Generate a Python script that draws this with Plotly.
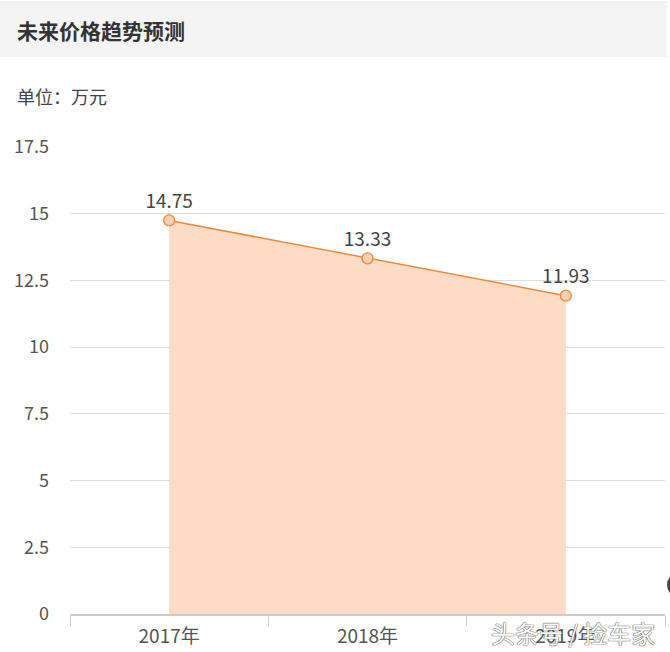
import plotly.graph_objects as go

categories = ["2017年", "2018年", "2019年"]
values = [14.75, 13.33, 11.93]
value_labels = ["14.75", "13.33", "11.93"]
y_ticks = [0, 2.5, 5, 7.5, 10, 12.5, 15, 17.5]
y_tick_labels = ["0", "2.5", "5", "7.5", "10", "12.5", "15", "17.5"]

W, H = 670, 652
ML, MR, MT, MB = 70, 5, 147, 38
PW = W - ML - MR
PH = H - MT - MB


def px_x(p):
    return (p - ML) / PW


def px_y(p):
    return (H - MB - p) / PH


FONT = "Noto Sans CJK SC, Microsoft YaHei, sans-serif"

fig = go.Figure()
fig.add_trace(go.Scatter(
    x=categories, y=values,
    mode="lines+markers+text",
    fill="tozeroy",
    fillcolor="#fddbc4",
    line=dict(color="#f08a3c", width=1.5),
    marker=dict(size=11, color="#fcd0b0", line=dict(color="#f08a3c", width=1.3)),
    text=value_labels,
    textposition="top center",
    textfont=dict(family=FONT, size=19, color="#444"),
    hoverinfo="skip",
))

fig.update_layout(
    width=W, height=H,
    margin=dict(l=ML, r=MR, t=MT, b=MB),
    paper_bgcolor="white", plot_bgcolor="white",
    showlegend=False,
    font=dict(family=FONT, color="#555"),
    xaxis=dict(
        type="category", range=[-0.5, 2.5],
        tickson="boundaries", ticks="outside", ticklen=10, tickcolor="#ccc",
        showline=True, linecolor="#ccc", linewidth=1.5,
        showgrid=False, zeroline=False,
        ticklabelstandoff=4,
        tickfont=dict(family=FONT, size=19, color="#555"),
    ),
    yaxis=dict(
        range=[0, 17.5], tickvals=y_ticks, ticktext=y_tick_labels,
        showgrid=True, gridcolor="#dedede", gridwidth=1,
        zeroline=False, showline=False,
        ticklabelstandoff=20,
        tickfont=dict(family=FONT, size=18, color="#555"),
    ),
    shapes=[
        dict(type="rect", xref="paper", yref="paper",
             x0=px_x(0), x1=px_x(667), y0=px_y(57), y1=px_y(2),
             fillcolor="#f4f4f4", line=dict(width=0), layer="below"),
        dict(type="line", xref="paper", yref="paper",
             x0=px_x(0), x1=px_x(667), y0=px_y(2), y1=px_y(2),
             line=dict(color="#e6e6e6", width=1)),
        dict(type="circle", xref="paper", yref="paper",
             x0=px_x(667), x1=px_x(693), y0=px_y(598), y1=px_y(572),
             fillcolor="#444", line=dict(width=0)),
    ],
    annotations=[
        dict(text="<b>未来价格趋势预测</b>", xref="paper", yref="paper",
             x=px_x(15), y=px_y(30), xanchor="left", yanchor="middle",
             showarrow=False, font=dict(family=FONT, size=21, color="#333")),
        dict(text="单位：万元", xref="paper", yref="paper",
             x=px_x(15), y=px_y(96), xanchor="left", yanchor="middle",
             showarrow=False, font=dict(family=FONT, size=18, color="#444")),
        dict(text="头条号 / 捡车家", xref="paper", yref="paper",
             x=px_x(657), y=px_y(632), xanchor="right", yanchor="middle",
             showarrow=False,
             font=dict(family=FONT, size=24, color="white",
                       shadow="0 0 1px #555, 0 0 1px #555, 0 0 1px #777")),
    ],
)

fig.write_html("out.html", config={"displayModeBar": False},
               post_script="document.body.style.margin='0';document.body.style.overflow='hidden';")
